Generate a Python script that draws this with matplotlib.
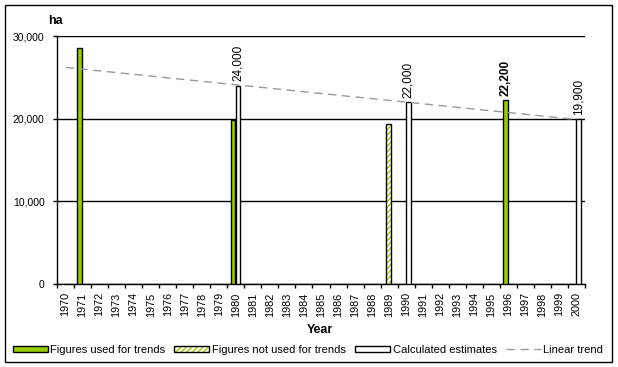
import numpy as np
import matplotlib
matplotlib.use("Agg")
import matplotlib.pyplot as plt
from matplotlib.patches import Patch, Rectangle
from matplotlib.lines import Line2D

plt.rcParams["font.family"] = ["Liberation Sans", "DejaVu Sans"]
plt.rcParams["hatch.linewidth"] = 1.0

# Data
years = list(range(1970, 2001))
used_years = [1971, 1980, 1996]
used_vals = [28600, 19800, 22200]
notused_years = [1989]
notused_vals = [19300]
calc_years = [1980, 1990, 2000]
calc_vals = [24000, 22000, 19900]
trend_years = [1970, 2000]
trend_vals = [26200, 19900]

green = "#99cc00"
W, H = 618, 367
fig = plt.figure(figsize=(W / 100, H / 100), dpi=100)
ax = fig.add_axes([57 / W, 1 - 284 / H, (585 - 57) / W, (284 - 36) / H])

def idx(ys):
    return np.array(ys) - years[0]

bw = 0.28
ax.bar(idx(used_years) - 0.16, used_vals, width=bw, color=green,
       edgecolor="black", linewidth=1.0, zorder=3)
ax.bar(idx(notused_years) - 0.03, notused_vals, width=bw, color="white",
       edgecolor="#a8c800", hatch="//////", linewidth=0, zorder=3)
ax.bar(idx(notused_years) - 0.03, notused_vals, width=bw, color="none",
       edgecolor="black", linewidth=1.0, zorder=3)
ax.bar(idx(calc_years) + 0.13, calc_vals, width=bw, color="white",
       edgecolor="black", linewidth=1.0, zorder=3)
ax.plot(idx(trend_years), trend_vals, color="#999999", linestyle=(0, (6, 4)),
        linewidth=1.0, zorder=4)

# value labels
def label(x, v, bold=False):
    ax.annotate(f"{v:,}", (x, v), xytext=(0, 3), textcoords="offset points",
                rotation=90, ha="center", va="bottom", fontsize=8.5,
                fontweight="bold" if bold else "normal", zorder=5)

for y, v in zip(calc_years, calc_vals):
    label(y - years[0] + 0.13, v)
label(1996 - years[0] - 0.16, 22200, bold=True)

ax.set_xlim(-0.5, len(years) - 0.5)
ax.set_ylim(0, 30000)
ax.set_yticks([0, 10000, 20000, 30000])
ax.set_yticklabels([f"{v:,}" for v in [0, 10000, 20000, 30000]], fontsize=7.5)
ax.tick_params(axis="y", direction="out", length=3, width=1, pad=6)
ax.yaxis.grid(True, color="black", linewidth=1.0)
ax.set_axisbelow(True)

ax.set_xticks(np.arange(-0.5, len(years), 1))
ax.set_xticklabels([])
ax.set_xticks(np.arange(len(years)), minor=True)
ax.set_xticklabels([str(y) for y in years], minor=True, rotation=90,
                   fontsize=7.8, family=["Liberation Sans Narrow", "Liberation Sans"])
ax.tick_params(axis="x", which="major", direction="out", length=3, width=1)
ax.tick_params(axis="x", which="minor", length=0, pad=6)

for s in ["top", "right"]:
    ax.spines[s].set_visible(False)
for s in ["left", "bottom"]:
    ax.spines[s].set_linewidth(1.0)

fig.text(48 / W, 1 - 21 / H, "ha", fontsize=9, fontweight="bold", va="center", ha="left")
fig.text(320 / W, 1 - 330 / H, "Year", fontsize=9, fontweight="bold", va="center", ha="center")

handles = [
    Patch(facecolor=green, edgecolor="black", linewidth=1.0),
    (Patch(facecolor="white", edgecolor="#a8c800", hatch="//////", linewidth=0),
     Patch(facecolor="none", edgecolor="black", linewidth=1.0)),
    Patch(facecolor="white", edgecolor="black", linewidth=1.0),
    Line2D([], [], color="#999999", linestyle=(0, (6, 4)), linewidth=1.0),
]
labels = ["Figures used for trends", "Figures not used for trends",
          "Calculated estimates", "Linear trend"]
fig.legend(handles, labels, loc="center", bbox_to_anchor=(308 / W, 1 - 350 / H),
           ncol=4, frameon=False, fontsize=8, handlelength=3.15,
           handleheight=0.55, handletextpad=0.25, columnspacing=0.8)

fig.patches.append(Rectangle((5 / W, 5 / H), 607 / W, 357 / H, transform=fig.transFigure,
                             fill=False, edgecolor="black", linewidth=1.0))

fig.savefig("out.png", dpi=100)
